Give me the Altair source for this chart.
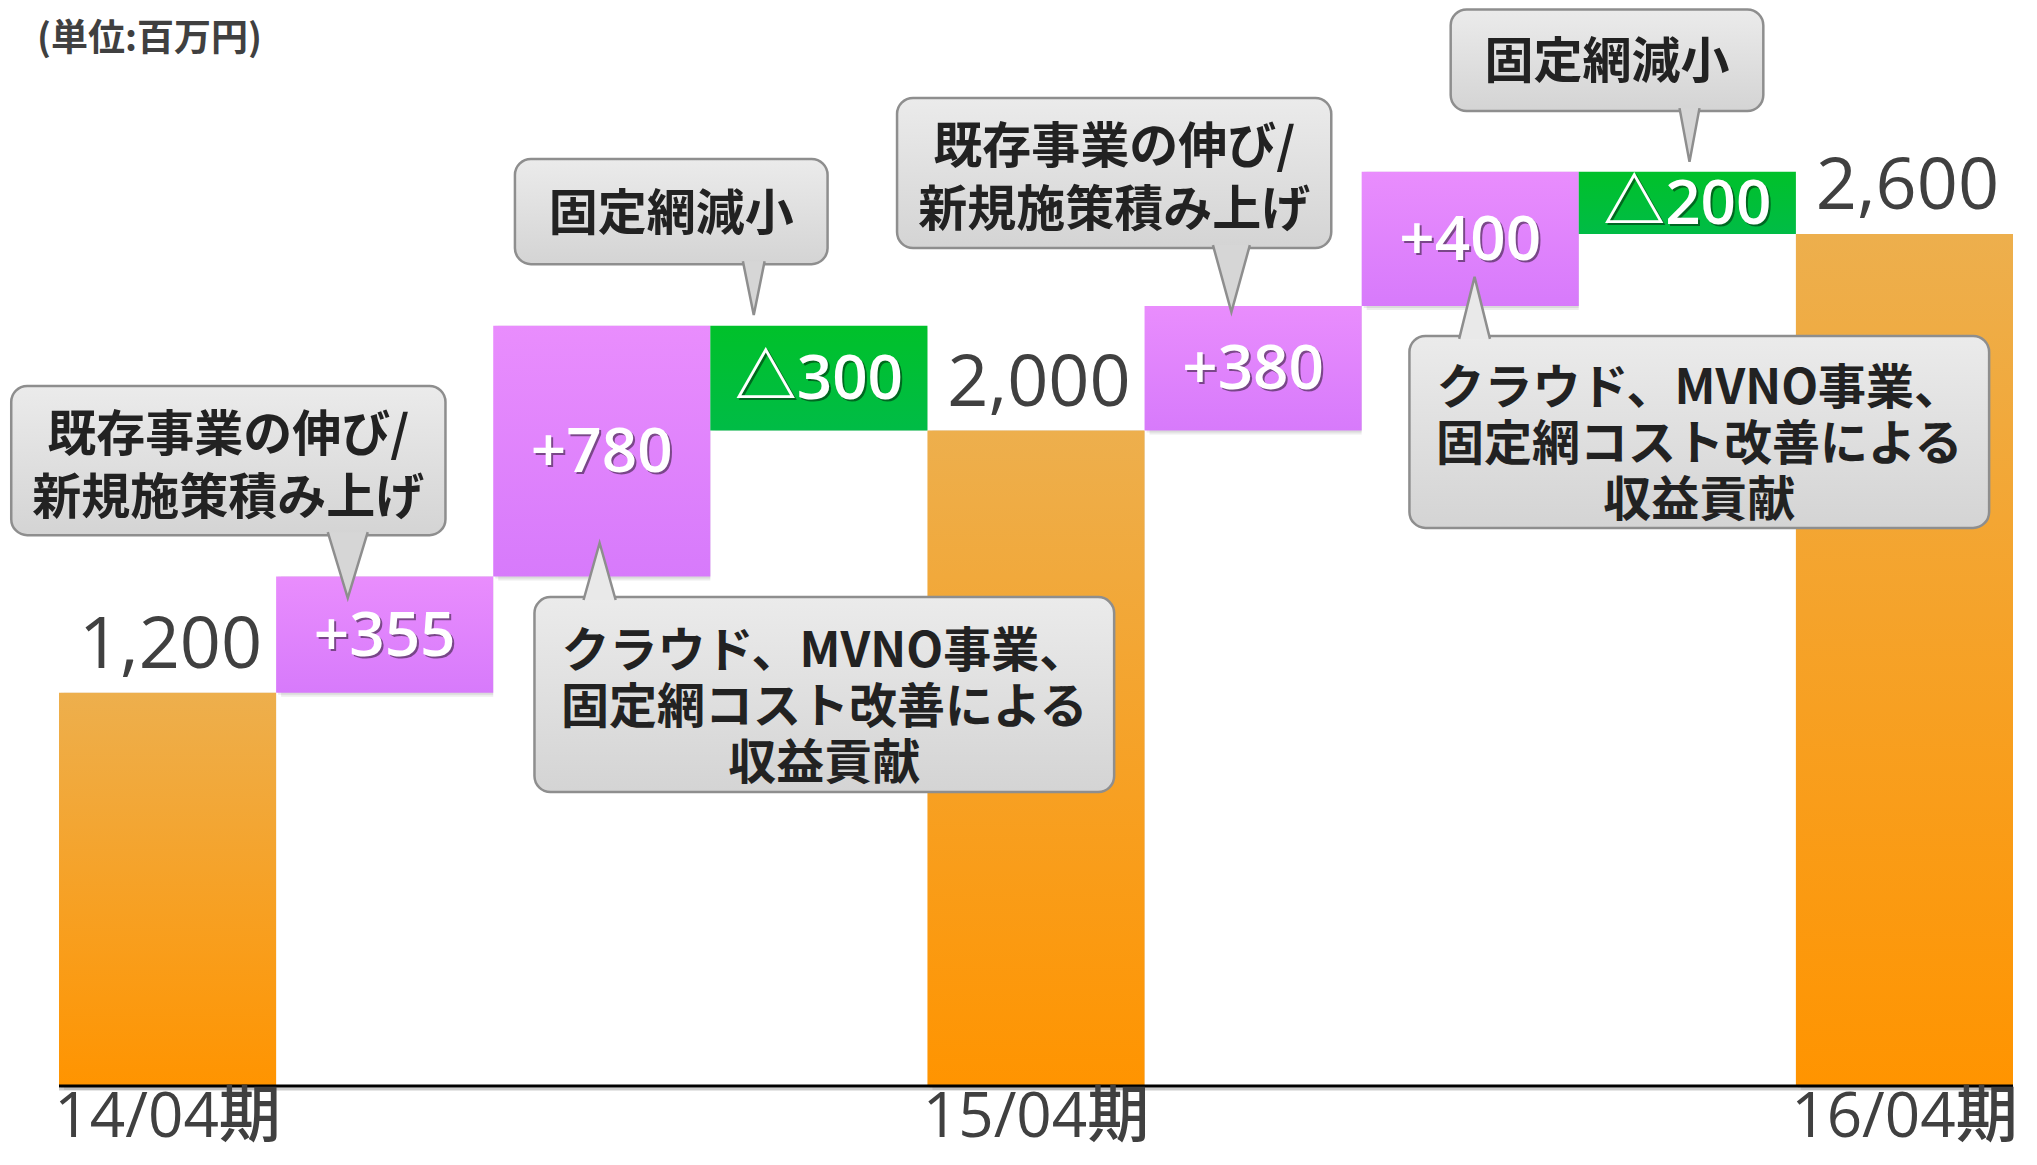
import altair as alt
import pandas as pd

# ---------------- data ----------------
period_labels = ["14/04期", "15/04期", "16/04期"]
period_value_text = ["1,200", "2,000", "2,600"]
period_values = [1200, 2000, 2600]
period_slots = [0, 4, 8]

step_labels = ["+355", "+780", "△300", "+380", "+400", "△200"]
step_kind = ["up", "up", "down", "up", "up", "down"]
step_slots = [1, 2, 3, 5, 6, 7]
step_from = [1200, 1555, 2320, 2000, 2380, 2790]
step_to = [1555, 2320, 2000, 2380, 2790, 2600]

callout_lines = [
    ["既存事業の伸び/", "新規施策積み上げ"],
    ["固定網減小"],
    ["クラウド、MVNO事業、", "固定網コスト改善による", "収益貢献"],
    ["既存事業の伸び/", "新規施策積み上げ"],
    ["固定網減小"],
    ["クラウド、MVNO事業、", "固定網コスト改善による", "収益貢献"],
]
# callout anchors in chart units (slot position, value in 百万円)
callout_left = [-0.22, 2.10, 2.19, 3.86, 6.41, 6.22]
callout_right = [1.78, 3.54, 4.86, 5.86, 7.85, 8.89]
callout_top = [2136, 2829, 1492, 3015, 3285, 2289]
callout_bottom = [1681, 2508, 897, 2557, 2975, 1703]
callout_tip_slot = [1.33, 3.20, 2.49, 5.40, 7.51, 6.52]
callout_tip_value = [1489, 2353, 1657, 2362, 2820, 2469]
callout_half = [0.092, 0.05, 0.074, 0.085, 0.046, 0.071]

unit_label = "(単位:百万円)"

# ---------------- tables ----------------
periods = pd.DataFrame({
    "label": period_labels,
    "vtext": period_value_text,
    "value": period_values,
    "x0": period_slots,
    "x1": [s + 1 for s in period_slots],
    "xc": [s + 0.5 for s in period_slots],
    "base": [0] * len(period_slots),
})

steps = pd.DataFrame({
    "label": step_labels,
    "kind": step_kind,
    "x0": step_slots,
    "x1": [s + 1 for s in step_slots],
    "xc": [s + 0.5 for s in step_slots],
    "lo": step_from,
    "hi": step_to,
    "mid": [(a + b) / 2 for a, b in zip(step_from, step_to)],
})
steps_up = steps[steps.kind == "up"]
steps_down = steps[steps.kind == "down"]

boxes = pd.DataFrame({
    "id": list(range(len(callout_lines))),
    "lines": callout_lines,
    "n": [len(l) for l in callout_lines],
    "x0": callout_left,
    "x1": callout_right,
    "top": callout_top,
    "bottom": callout_bottom,
    "xc": [(a + b) / 2 for a, b in zip(callout_left, callout_right)],
    "yc": [(a + b) / 2 for a, b in zip(callout_top, callout_bottom)],
})

ptr_rows = []
for i in range(len(callout_lines)):
    tip_v = callout_tip_value[i]
    if tip_v < callout_bottom[i]:
        base = callout_bottom[i] + 9
        fill = "down"
    else:
        base = callout_top[i] - 9
        fill = "up"
    t = callout_tip_slot[i]
    h = callout_half[i]
    ptr_rows += [
        {"id": i, "dir": fill, "x": t - h, "y": base, "y2": base},
        {"id": i, "dir": fill, "x": t, "y": base, "y2": tip_v},
        {"id": i, "dir": fill, "x": t + h, "y": base, "y2": base},
    ]
pointers = pd.DataFrame(ptr_rows)
pointer_edges = pointers.assign(y=[r["y2"] if k % 3 == 1 else r["y"] for k, r in enumerate(ptr_rows)])

axis_df = pd.DataFrame({"x0": [0], "x1": [9], "y": [0]})

# ---------------- scales & styles ----------------
W, H = 2020, 1148
XS = alt.Scale(domain=[0, 9], range=[51, 2005])
YS = alt.Scale(domain=[0, 3000], range=[1078, 1078 - 0.3277 * 3000])

def grad(c0, c1):
    return {"gradient": "linear", "x1": 0, "y1": 0, "x2": 0, "y2": 1,
            "stops": [{"offset": 0, "color": c0}, {"offset": 1, "color": c1}]}

ORANGE = grad("#EDAF4D", "#FF9400")
PURPLE = grad("#E98DFD", "#D77AFB")
GREEN = grad("#00C12A", "#00BC46")
BOXFILL = grad("#EBEBEB", "#D4D4D4")
NUMFONT = "'Open Sans', 'Noto Sans CJK JP'"
JPFONT = "'Noto Sans CJK JP'"
DARK = "#404040"

def xq(f):
    return alt.X(f, type="quantitative", scale=XS, axis=None)

def yq(f):
    return alt.Y(f, type="quantitative", scale=YS, axis=None)

# ---------------- bars ----------------
def bar_layer(df, fill, lo, hi):
    enc = dict(x=xq("x0"), x2=alt.X2("x1"), y=yq(lo), y2=alt.Y2(hi))
    sh1 = alt.Chart(df).mark_rect(fill="#000", opacity=0.07, xOffset=5, yOffset=4).encode(**enc)
    sh2 = alt.Chart(df).mark_rect(fill="#000", opacity=0.08, xOffset=2, yOffset=2).encode(**enc)
    main = alt.Chart(df).mark_rect(fill=fill).encode(**enc)
    return sh1, sh2, main

p_sh1, p_sh2, p_bar = bar_layer(periods, ORANGE, "base", "value")
u_sh1, u_sh2, u_bar = bar_layer(steps_up, PURPLE, "lo", "hi")
d_sh1, d_sh2, d_bar = bar_layer(steps_down, GREEN, "lo", "hi")

axis_shadow = alt.Chart(axis_df).mark_rule(color="#000", opacity=0.2, strokeWidth=3, yOffset=3).encode(
    x=xq("x0"), x2=alt.X2("x1"), y=yq("y"))
axis_line = alt.Chart(axis_df).mark_rule(color="#000", strokeWidth=3).encode(
    x=xq("x0"), x2=alt.X2("x1"), y=yq("y"))

# ---------------- labels ----------------
value_text = alt.Chart(periods).mark_text(
    font=NUMFONT, fontSize=72, fontWeight=500, color=DARK, baseline="alphabetic", dy=-25, dx=3
).encode(x=xq("xc"), y=yq("value"), text="vtext:N")

period_text = alt.Chart(periods).mark_text(
    font=NUMFONT, fontSize=62, fontWeight=500, color=DARK, baseline="alphabetic", dy=51
).encode(x=xq("xc"), y=yq("base"), text="label:N")

step_shadow = alt.Chart(steps).mark_text(
    font=NUMFONT, fontSize=62, fontWeight=600, color="#000", opacity=0.45, baseline="middle", dx=2, dy=4
).encode(x=xq("xc"), y=yq("mid"), text="label:N")
step_text = alt.Chart(steps).mark_text(
    font=NUMFONT, fontSize=62, fontWeight=600, color="white", baseline="middle", dy=2
).encode(x=xq("xc"), y=yq("mid"), text="label:N")

unit_text = alt.Chart(pd.DataFrame({"t": [unit_label]})).mark_text(
    font=JPFONT, fontSize=37, fontWeight="bold", color=DARK, align="left", baseline="middle"
).encode(x=alt.value(29), y=alt.value(32), text="t:N")

# ---------------- callouts ----------------
box_enc = dict(x=xq("x0"), x2=alt.X2("x1"), y=yq("top"), y2=alt.Y2("bottom"))
box_sh1 = alt.Chart(boxes).mark_rect(cornerRadius=16, fill="#000", opacity=0.06, xOffset=6, yOffset=6).encode(**box_enc)
box_sh2 = alt.Chart(boxes).mark_rect(cornerRadius=16, fill="#000", opacity=0.08, xOffset=3, yOffset=3).encode(**box_enc)
box = alt.Chart(boxes).mark_rect(cornerRadius=16, fill=BOXFILL, stroke="#8E8E8E", strokeWidth=2.5).encode(**box_enc)

ptr_down = alt.Chart(pointers[pointers.dir == "down"]).mark_area(fill="#D6D6D6").encode(
    x=xq("x"), y=yq("y"), y2=alt.Y2("y2"), detail="id:N")
ptr_up = alt.Chart(pointers[pointers.dir == "up"]).mark_area(fill="#E9E9E9").encode(
    x=xq("x"), y=yq("y"), y2=alt.Y2("y2"), detail="id:N")
ptr_edge = alt.Chart(pointer_edges).mark_line(color="#8E8E8E", strokeWidth=2.5, strokeJoin="miter").encode(
    x=xq("x"), y=yq("y"), detail="id:N")

text1 = alt.Chart(boxes[boxes.n == 1]).mark_text(
    font=JPFONT, fontSize=49, fontWeight="bold", color="#222222", baseline="middle", dy=3
).encode(x=xq("xc"), y=yq("yc"), text="lines")
text2 = alt.Chart(boxes[boxes.n == 2]).mark_text(
    font=JPFONT, fontSize=49, fontWeight="bold", color="#222222", baseline="middle", lineHeight=63, dy=-25
).encode(x=xq("xc"), y=yq("yc"), text="lines")
text3 = alt.Chart(boxes[boxes.n == 3]).mark_text(
    font=JPFONT, fontSize=48, fontWeight="bold", color="#222222", baseline="middle", lineHeight=56, dy=-42
).encode(x=xq("xc"), y=yq("yc"), text="lines")

chart = alt.layer(
    p_sh1, p_sh2, u_sh1, u_sh2, d_sh1, d_sh2,
    p_bar, u_bar, d_bar,
    axis_shadow, axis_line,
    value_text, period_text, step_shadow, step_text,
    box_sh1, box_sh2, box, ptr_down, ptr_up, ptr_edge, text1, text2, text3,
    unit_text,
).properties(
    width=W, height=H, padding=0, autosize=alt.AutoSizeParams(type="none")
).configure_view(stroke=None)

chart.save("out.html", embed_options={"renderer": "svg", "actions": False})
